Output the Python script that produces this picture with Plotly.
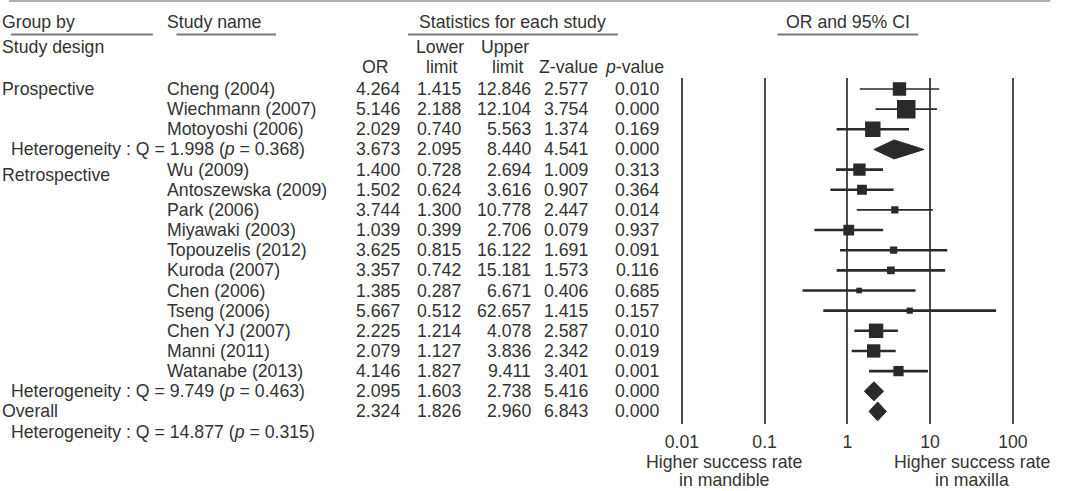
import plotly.graph_objects as go
import math

W, H = 1078, 491

# ---------------- data ----------------
studies = ["Cheng (2004)", "Wiechmann (2007)", "Motoyoshi (2006)",
           "Wu (2009)", "Antoszewska (2009)", "Park (2006)", "Miyawaki (2003)",
           "Topouzelis (2012)", "Kuroda (2007)", "Chen (2006)", "Tseng (2006)",
           "Chen YJ (2007)", "Manni (2011)", "Watanabe (2013)"]
design = ["Prospective"] * 3 + ["Retrospective"] * 11
odds_ratio = [4.264, 5.146, 2.029, 1.400, 1.502, 3.744, 1.039, 3.625, 3.357, 1.385, 5.667, 2.225, 2.079, 4.146]
lower_limit = [1.415, 2.188, 0.740, 0.728, 0.624, 1.300, 0.399, 0.815, 0.742, 0.287, 0.512, 1.214, 1.127, 1.827]
upper_limit = [12.846, 12.104, 5.563, 2.694, 3.616, 10.778, 2.706, 16.122, 15.181, 6.671, 62.657, 4.078, 3.836, 9.411]
z_value = [2.577, 3.754, 1.374, 1.009, 0.907, 2.447, 0.079, 1.691, 1.573, 0.406, 1.415, 2.587, 2.342, 3.401]
p_value = [0.010, 0.000, 0.169, 0.313, 0.364, 0.014, 0.937, 0.091, 0.116, 0.685, 0.157, 0.010, 0.019, 0.001]
rel_weight = [16.9, 32.4, 22.5, 14.4, 9.0, 4.9, 11.0, 4.9, 5.6, 3.0, 3.6, 19.6, 16.9, 10.0]

groups = ["Prospective", "Retrospective"]
group_or = [3.673, 2.095]
group_lower = [2.095, 1.603]
group_upper = [8.440, 2.738]
group_z = [4.541, 5.416]
group_p = [0.000, 0.000]
group_Q = [1.998, 9.749]
group_Qp = [0.368, 0.463]

overall_or = 2.324
overall_lower = 1.826
overall_upper = 2.960
overall_z = 6.843
overall_p = 0.000
overall_Q = 14.877
overall_Qp = 0.315

tick_vals = [0.01, 0.1, 1, 10, 100]
tick_text = ["0.01", "0.1", "1", "10", "100"]

# ---------------- layout helpers ----------------
FONT = "Liberation Sans, Arial, Helvetica, sans-serif"
FS = 17.7
TXT = "#333333"
MARK = "#2a2a2a"
LEFT_FIX = -9  # compensates annotation box padding for left-anchored text

def px_x(p):
    return p / W

def px_y(p):
    return 1 - p / H

# row assignment
rows_study = []
rows_group = []
r = 0
for g in groups:
    for i, d in enumerate(design):
        if d == g:
            rows_study.append((i, r))
            r += 1
    rows_group.append(r)
    r += 1
row_overall = r
row_overall_het = r + 1

# axes geometry
x_lo_px, x_hi_px = 683, 1019
pad = 0.1
dec = (x_hi_px - x_lo_px) / 4
y_top_px, y_bot_px = 78, 424
row0_px, row_step = 89, 20.15
y_rng = [(y_bot_px - row0_px) / row_step, (y_top_px - row0_px) / row_step]
y_dom = [px_y(y_bot_px), px_y(y_top_px)]

def row_to_paper(row):
    # same linear map as the y axis (range reversed), extended beyond the domain
    frac = (y_rng[0] - row) / (y_rng[0] - y_rng[1])
    return y_dom[0] + frac * (y_dom[1] - y_dom[0])

fig = go.Figure()
annotations = []

def add_text(x_px, row, text, anchor="left"):
    inside = y_rng[1] <= row <= y_rng[0]
    annotations.append(dict(x=px_x(x_px), xref="paper",
                            y=row if inside else row_to_paper(row),
                            yref="y" if inside else "paper",
                            text=text, showarrow=False, xanchor=anchor, yanchor="middle",
                            xshift=LEFT_FIX if anchor == "left" else 0,
                            borderpad=0, borderwidth=0,
                            font=dict(family=FONT, size=FS, color=TXT)))

col_right = [397, 459, 530, 588, 660]

def add_numbers(row, vals):
    for xr, v in zip(col_right, vals):
        add_text(xr, row, f"{v:.3f}", anchor="right")

# study rows
first_in_group = {}
for i, row in rows_study:
    add_text(170, row, studies[i])
    add_numbers(row, [odds_ratio[i], lower_limit[i], upper_limit[i], z_value[i], p_value[i]])
    if design[i] not in first_in_group:
        first_in_group[design[i]] = row

add_text(2, first_in_group["Prospective"], "Prospective")
add_text(2, first_in_group["Retrospective"] + 0.27, "Retrospective")

for gi, row in enumerate(rows_group):
    add_text(11, row, f"Heterogeneity : Q = {group_Q[gi]:.3f} (<i>p</i> = {group_Qp[gi]:.3f})")
    add_numbers(row, [group_or[gi], group_lower[gi], group_upper[gi], group_z[gi], group_p[gi]])

add_text(2, row_overall, "Overall")
add_numbers(row_overall, [overall_or, overall_lower, overall_upper, overall_z, overall_p])
add_text(11, row_overall_het, f"Heterogeneity : Q = {overall_Q:.3f} (<i>p</i> = {overall_Qp:.3f})")

# headers (paper coords)
def add_hdr(x_px, y_px, text, anchor="left"):
    annotations.append(dict(x=px_x(x_px), xref="paper", y=px_y(y_px), yref="paper",
                            text=text, showarrow=False, xanchor=anchor, yanchor="middle",
                            xshift=LEFT_FIX if anchor == "left" else 0,
                            borderpad=0, borderwidth=0,
                            font=dict(family=FONT, size=FS, color=TXT)))

add_hdr(2, 22, "Group by")
add_hdr(170, 22, "Study name")
add_hdr(511, 22, "Statistics for each study", "center")
add_hdr(852, 22, "OR and 95% CI", "center")
add_hdr(2, 47, "Study design")
add_hdr(372, 67, "OR", "center")
add_hdr(438, 47, "Lower", "center")
add_hdr(440, 67, "limit", "center")
add_hdr(503, 47, "Upper", "center")
add_hdr(507, 67, "limit", "center")
add_hdr(568, 67, "Z-value", "center")
add_hdr(635, 67, "<i>p</i>-value", "center")

add_hdr(726, 462, "Higher success rate", "center")
add_hdr(726, 480, "in mandible", "center")
add_hdr(978, 462, "Higher success rate", "center")
add_hdr(978, 480, "in maxilla", "center")

shapes = [
    dict(type="line", xref="paper", yref="paper", x0=0, x1=px_x(1057), y0=px_y(1), y1=px_y(1),
         line=dict(color="#b0b0b0", width=2)),
]
for x0, x1 in [(2, 146), (170, 271), (405, 618), (780, 923)]:
    shapes.append(dict(type="line", xref="paper", yref="paper", x0=px_x(x0), x1=px_x(x1),
                       y0=px_y(34.5), y1=px_y(34.5), line=dict(color="#7a7a7a", width=2)))

# CI lines
thin = {"Cheng (2004)", "Wiechmann (2007)", "Park (2006)"}
for i, row in rows_study:
    fig.add_trace(go.Scatter(x=[lower_limit[i], upper_limit[i]], y=[row, row], mode="lines",
                             line=dict(color=MARK, width=1.6 if studies[i] in thin else 2.6),
                             showlegend=False, hoverinfo="skip"))

# squares
wmax = max(rel_weight)
fig.add_trace(go.Scatter(
    x=[odds_ratio[i] for i, _ in rows_study],
    y=[row for _, row in rows_study],
    mode="markers",
    marker=dict(symbol="square", color=MARK, opacity=1, line=dict(width=0),
                size=[18.5 * math.sqrt(rel_weight[i] / wmax) for i, _ in rows_study]),
    showlegend=False))

# diamonds
def diamond(lo, est, hi, row, h=0.47):
    fig.add_trace(go.Scatter(x=[lo, est, hi, est, lo], y=[row, row - h, row, row + h, row],
                             mode="lines", fill="toself", fillcolor=MARK,
                             line=dict(color=MARK, width=1), showlegend=False))

for gi, row in enumerate(rows_group):
    diamond(group_lower[gi], group_or[gi], group_upper[gi], row)
diamond(overall_lower, overall_or, overall_upper, row_overall)

fig.update_layout(
    width=W, height=H,
    margin=dict(l=0, r=0, t=0, b=0),
    paper_bgcolor="white", plot_bgcolor="white",
    xaxis=dict(type="log", range=[-2 - pad, 2 + pad],
               domain=[px_x(x_lo_px - pad * dec), px_x(x_hi_px + pad * dec)],
               tickvals=tick_vals, ticktext=tick_text,
               showgrid=True, gridcolor="#4d4d4d", gridwidth=2,
               zeroline=False, showline=False, ticks="",
               ticklabelstandoff=5,
               tickfont=dict(family=FONT, size=FS, color=TXT)),
    yaxis=dict(range=y_rng, domain=y_dom,
               visible=False, showgrid=False, zeroline=False),
    annotations=annotations,
    shapes=shapes,
)

fig.write_html("out.html")
